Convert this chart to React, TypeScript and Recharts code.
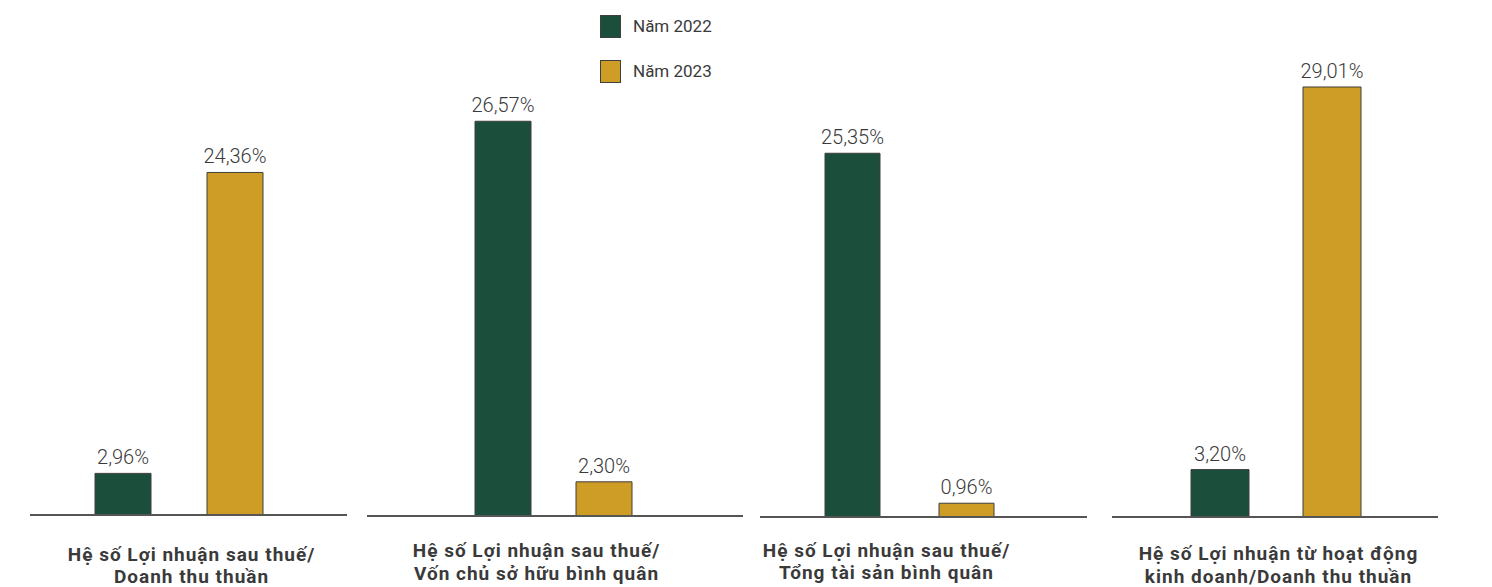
import { BarChart, Bar, XAxis, YAxis, LabelList } from 'recharts'

// Profitability ratios, 2022 vs 2023 (in %)
const categories = [
  'Hệ số Lợi nhuận sau thuế/\nDoanh thu thuần',
  'Hệ số Lợi nhuận sau thuế/\nVốn chủ sở hữu bình quân',
  'Hệ số Lợi nhuận sau thuế/\nTổng tài sản bình quân',
  'Hệ số Lợi nhuận từ hoạt động\nkinh doanh/Doanh thu thuần',
]
const values2022 = [2.96, 26.57, 25.35, 3.2]
const values2023 = [24.36, 2.3, 0.96, 29.01]
const seriesNames = ['Năm 2022', 'Năm 2023']

const GREEN = '#1b4f3b'
const GOLD = '#cd9d25'
const OUTLINE = '#3f3f3f'
const TEXT = '#3a3a3a'

const W = 1492
const H = 587
const PLOT_TOP = 60
const AXIS_H = 70

// one small chart per ratio, each with its own baseline segment
const panels = [
  { left: 30, width: 317, dy: -2.5, yMax: 32.5, padL: 0, padR: 20, barSize: 56, barGap: 56, titleDx: 13, titleDy: 45.5 },
  { left: 367, width: 376, dy: -1.3, yMax: 30.76, padL: 0, padR: 3, barSize: 56, barGap: 45, titleDx: -17, titleDy: 41 },
  { left: 760, width: 327, dy: -0.3, yMax: 31.85, padL: 0, padR: 28, barSize: 55, barGap: 59, titleDx: -23, titleDy: 39.5 },
  { left: 1112, width: 326, dy: 0, yMax: 30.83, padL: 1, padR: 0, barSize: 58, barGap: 54, titleDx: 3, titleDy: 43 },
]

const fmt = (v: number) => v.toFixed(2).replace('.', ',') + '%'

function TitleTick({ x, y, payload, dx, dy }: any) {
  const lines = String(payload.value).split('\n')
  return (
    <text
      x={x + dx}
      y={y + dy}
      textAnchor="middle"
      fill={TEXT}
      fontFamily="Roboto, sans-serif"
      fontWeight={700}
      fontSize={19}
      letterSpacing={1}
    >
      {lines.map((l, i) => (
        <tspan key={i} x={x + dx} dy={i === 0 ? 0 : 22.5}>{l}</tspan>
      ))}
    </text>
  )
}

function LegendBox() {
  const colours = [GREEN, GOLD]
  return (
    <div style={{ position: 'absolute', left: 600, top: 14, fontFamily: 'Roboto, sans-serif', fontSize: 17, color: TEXT }}>
      {seriesNames.map((n, i) => (
        <div key={n} style={{ display: 'flex', alignItems: 'center', height: 24, marginBottom: i === 0 ? 21 : 0 }}>
          <div style={{ width: 19, height: 21, background: colours[i], border: `1.5px solid ${OUTLINE}`, marginRight: 12 }} />
          <span>{n}</span>
        </div>
      ))}
    </div>
  )
}

export default function App() {
  return (
    <div style={{ position: 'absolute', left: 0, top: 0, width: W, height: H, background: '#fff', overflow: 'hidden' }}>
      <LegendBox />
      {panels.map((p, i) => {
        const data = [{ name: categories[i], y2022: values2022[i], y2023: values2023[i] }]
        return (
          <div key={i} style={{ position: 'absolute', left: p.left, top: p.dy }}>
            <BarChart
              width={p.width}
              height={H}
              data={data}
              margin={{ top: PLOT_TOP, right: 0, bottom: 0, left: 0 }}
              barGap={p.barGap}
              barSize={p.barSize}
            >
              <YAxis hide domain={[0, p.yMax]} />
              <XAxis
                dataKey="name"
                height={AXIS_H}
                padding={{ left: p.padL, right: p.padR }}
                axisLine={{ stroke: '#555', strokeWidth: 2 }}
                tickLine={false}
                tickSize={0}
                tickMargin={0}
                interval={0}
                tick={<TitleTick dx={p.titleDx} dy={p.titleDy} />}
              />
              <Bar dataKey="y2022" name={seriesNames[0]} fill={GREEN} stroke={OUTLINE} strokeWidth={1} isAnimationActive={false}>
                <LabelList dataKey="y2022" position="top" offset={9} formatter={fmt}
                  style={{ fill: TEXT, fontFamily: 'Roboto, sans-serif', fontWeight: 300, fontSize: 20 }} />
              </Bar>
              <Bar dataKey="y2023" name={seriesNames[1]} fill={GOLD} stroke={OUTLINE} strokeWidth={1} isAnimationActive={false}>
                <LabelList dataKey="y2023" position="top" offset={9} formatter={fmt}
                  style={{ fill: TEXT, fontFamily: 'Roboto, sans-serif', fontWeight: 300, fontSize: 20 }} />
              </Bar>
            </BarChart>
          </div>
        )
      })}
    </div>
  )
}
